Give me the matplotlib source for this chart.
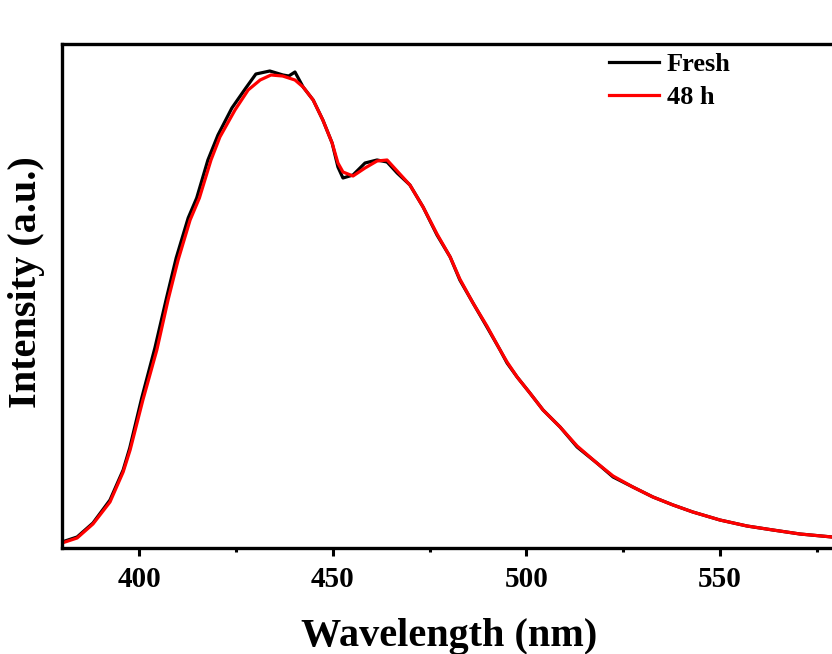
import matplotlib
matplotlib.use('Agg')
import matplotlib.pyplot as plt
from matplotlib.ticker import MultipleLocator

plt.rcParams['font.family'] = ['Liberation Serif', 'DejaVu Serif']
plt.rcParams['font.weight'] = 'bold'

# wavelength (nm) and intensity (a.u.)
wl_fresh = [380, 383.9, 388, 392.4, 395.8, 397.5, 400.6, 404.0, 407.0, 409.5,
            412.6, 414.8, 417.7, 420.3, 423.9, 427.5, 430.1, 433.7, 437.1, 438.6,
            440.2, 442.3, 444.9, 447.4, 449.8, 451.3, 452.6, 455.2, 458.3, 461.4,
            464.0, 466.6, 469.9, 473.3, 476.9, 480.3, 482.8, 486.2, 489.8, 493.2,
            495.0, 497.6, 500.9, 504.3, 508.7, 513.1, 518.2, 522.4, 527.5, 532.7,
            537.9, 543.0, 550.0, 557.0, 563.7, 570.7, 579.0, 581]
fresh = [6, 11, 25, 48, 78, 100, 150, 200, 250, 290,
         330, 350, 388, 413, 440, 460, 474, 477, 473, 472,
         476, 461, 448, 428, 405, 381, 370, 373, 385, 388,
         386, 375, 363, 341, 313, 291, 268, 245, 221, 198,
         185, 171, 155, 138, 121, 101, 85, 71, 61, 51,
         43, 36, 28, 22, 18, 14, 11, 10]

wl_48h = [380, 383.9, 388, 392.4, 395.8, 397.6, 400.9, 404.5, 407.4, 410.0,
          413.1, 415.5, 418.5, 420.8, 424.7, 428.1, 431.2, 434.0, 437.0, 440.2,
          442.3, 444.9, 447.4, 449.8, 451.3, 452.6, 455.2, 458.3, 461.4, 464.0,
          466.6, 469.9, 473.3, 476.9, 480.3, 482.8, 486.2, 489.8, 493.2, 495.0,
          497.6, 500.9, 504.3, 508.7, 513.1, 518.2, 522.4, 527.5, 532.7, 537.9,
          543.0, 550.0, 557.0, 563.7, 570.7, 579.0, 581]
h48 = [5, 10, 24, 46, 76, 98, 148, 198, 248, 288,
       328, 350, 388, 411, 438, 458, 468, 473, 472, 468,
       461, 448, 428, 405, 385, 376, 372, 380, 387, 388,
       377, 363, 341, 314, 291, 269, 245, 222, 198, 186,
       171, 155, 138, 121, 102, 85, 72, 61, 51, 43,
       36, 28, 22, 18, 14, 11, 10]

fig = plt.figure(figsize=(8.32, 6.54), dpi=100)
ax = fig.add_axes([62 / 832, 1 - 548 / 654, (836 - 62) / 832, (548 - 44) / 654])

ax.plot(wl_fresh, fresh, color='black', lw=2.3, label='Fresh')
ax.plot(wl_48h, h48, color='red', lw=2.3, label='48 h')

ax.set_xlim(380, 580)
ax.set_ylim(0, 504)
ax.xaxis.set_major_locator(MultipleLocator(50))
ax.xaxis.set_minor_locator(MultipleLocator(25))
ax.set_yticks([])

for s in ax.spines.values():
    s.set_linewidth(2.4)
ax.tick_params(axis='x', which='major', direction='out', length=6, width=2.2,
               labelsize=21, pad=7)
ax.tick_params(axis='x', which='minor', direction='out', length=3, width=2.2)

ax.set_xlabel('Wavelength (nm)', fontsize=29, fontweight='bold', labelpad=18)
ax.set_ylabel('Intensity (a.u.)', fontsize=29, fontweight='bold')
ax.yaxis.set_label_coords(-0.022, 0.528)

leg = ax.legend(loc='upper left', bbox_to_anchor=(0.676, 1.03), frameon=False,
                fontsize=19, handlelength=1.9, handletextpad=0.3, labelspacing=0.35)
for t in leg.get_texts():
    t.set_fontweight('bold')

fig.savefig('out.png', dpi=100)
